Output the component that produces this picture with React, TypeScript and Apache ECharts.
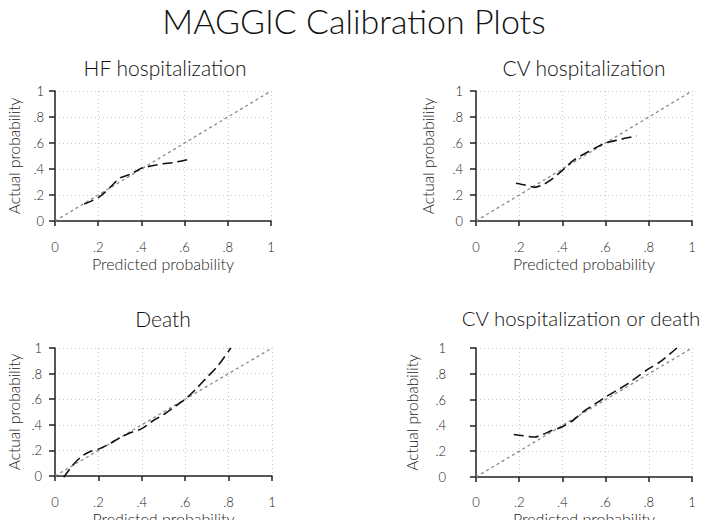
import React, { useEffect, useRef } from "react";
import * as echarts from "echarts";

const mainTitle = "MAGGIC Calibration Plots";
const panelTitles = ["HF hospitalization", "CV hospitalization", "Death", "CV hospitalization or death"];
const xAxisName = "Predicted probability";
const yAxisName = "Actual probability";

const hfCurve: [number, number][] = [
  [0.135, 0.13], [0.2, 0.18], [0.25, 0.25], [0.3, 0.33], [0.35, 0.36], [0.4, 0.405],
  [0.45, 0.425], [0.5, 0.44], [0.55, 0.45], [0.62, 0.475],
];
const cvCurve: [number, number][] = [
  [0.185, 0.29], [0.23, 0.275], [0.27, 0.26], [0.31, 0.28], [0.35, 0.32], [0.4, 0.39],
  [0.45, 0.465], [0.5, 0.515], [0.55, 0.56], [0.6, 0.6], [0.65, 0.62], [0.7, 0.64], [0.745, 0.655],
];
const deathCurve: [number, number][] = [
  [0.04, -0.01], [0.08, 0.08], [0.12, 0.15], [0.16, 0.19], [0.2, 0.21], [0.25, 0.25],
  [0.3, 0.3], [0.35, 0.34], [0.4, 0.37], [0.45, 0.43], [0.5, 0.48], [0.55, 0.54],
  [0.6, 0.6], [0.65, 0.68], [0.7, 0.77], [0.75, 0.86], [0.81, 1.0],
];
const cvDeathCurve: [number, number][] = [
  [0.175, 0.33], [0.22, 0.32], [0.27, 0.31], [0.31, 0.33], [0.35, 0.36], [0.4, 0.39],
  [0.45, 0.44], [0.5, 0.51], [0.55, 0.565], [0.6, 0.62], [0.65, 0.67], [0.7, 0.72],
  [0.75, 0.78], [0.8, 0.84], [0.85, 0.89], [0.93, 1.0],
];
const referenceLine: [number, number][] = [[0, 0], [1, 1]];
const curves = [hfCurve, cvCurve, deathCurve, cvDeathCurve];

const FONT = "Lato";
const fmt = (v: number) => {
  const r = Math.round(v * 10) / 10;
  if (r === 0) return "0";
  if (r === 1) return "1";
  return String(r).replace(/^0\./, ".");
};

// layout per panel
const grids = [
  { left: 55, top: 91, width: 216, height: 130, yOff: 8, xOff: 11, cx: 165, ty: 67, yGap: 25 },
  { left: 476, top: 91, width: 216, height: 130, yOff: 10, xOff: 11, cx: 584, ty: 67, yGap: 30 },
  { left: 55, top: 348, width: 217, height: 128, yOff: 10, xOff: 11, cx: 163, ty: 318, yGap: 23 },
  { left: 476, top: 348, width: 216, height: 129, yOff: 27, xOff: 10, cx: 581, ty: 318, yGap: 29 },
];

export default function App() {
  const ref = useRef<HTMLDivElement>(null);
  useEffect(() => {
    if (!ref.current) return;
    const chart = echarts.init(ref.current, undefined, { renderer: "svg" });
    const axisText = { color: "#222", fontFamily: FONT, fontWeight: 300, fontSize: 13, lineHeight: 12 };
    const nameText = { color: "#222", fontFamily: FONT, fontWeight: 300, fontSize: 16, lineHeight: 16 };
    const option: any = {
      animation: false,
      backgroundColor: "#fff",
      grid: grids.map((g) => ({ left: g.left, top: g.top, width: g.width, height: g.height, containLabel: false })),
      xAxis: grids.map((g, i) => ({
        type: "value",
        gridIndex: i,
        min: 0,
        max: 1,
        interval: 0.2,
        offset: g.xOff,
        name: xAxisName,
        nameLocation: "middle",
        nameGap: 23,
        nameTextStyle: nameText,
        axisLine: { show: true, lineStyle: { color: "#222", width: 1.5 } },
        axisTick: { show: true, length: 5, lineStyle: { color: "#222", width: 1.5 } },
        axisLabel: { ...axisText, margin: 9, formatter: fmt },
        splitLine: { show: true, lineStyle: { color: "#c8c8c8", type: [1, 3], width: 1 } },
      })),
      yAxis: grids.map((g, i) => ({
        type: "value",
        gridIndex: i,
        min: 0,
        max: 1,
        interval: 0.2,
        offset: g.yOff,
        name: yAxisName,
        nameLocation: "middle",
        nameGap: g.yGap,
        nameTextStyle: { ...nameText, fontSize: 15.5 },
        axisLine: { show: true, lineStyle: { color: "#222", width: 1.5 } },
        axisTick: { show: true, length: 6, lineStyle: { color: "#222", width: 1.5 } },
        axisLabel: { ...axisText, margin: 3, formatter: fmt },
        splitLine: { show: true, lineStyle: { color: "#c8c8c8", type: [1, 3], width: 1 } },
      })),
      series: [
        ...curves.map((_, i) => ({
          type: "line",
          xAxisIndex: i,
          yAxisIndex: i,
          data: referenceLine,
          showSymbol: false,
          silent: true,
          lineStyle: { color: "#8a8a8a", width: 1.3, type: [3, 3] },
        })),
        ...curves.map((c, i) => ({
          type: "line",
          xAxisIndex: i,
          yAxisIndex: i,
          data: c,
          showSymbol: false,
          smooth: 0.3,
          clip: false,
          lineStyle: { color: "#111", width: 1.6, type: [10, 5] },
        })),
      ],
      graphic: [
        {
          type: "text",
          x: 354,
          y: 20,
          style: {
            text: mainTitle,
            textAlign: "center",
            textVerticalAlign: "middle",
            fontFamily: FONT,
            fontWeight: 300,
            fontSize: 34,
            fill: "#111",
          },
        },
        ...grids.map((g, i) => ({
          type: "text",
          x: g.cx,
          y: g.ty,
          style: {
            text: panelTitles[i],
            textAlign: "center",
            textVerticalAlign: "middle",
            fontFamily: FONT,
            fontWeight: 300,
            fontSize: i === 3 ? 20.5 : 21,
            fill: "#111",
          },
        })),
      ],
    };
    chart.setOption(option);
    return () => chart.dispose();
  }, []);
  return <div ref={ref} style={{ width: 709, height: 528, margin: -8 }} />;
}
